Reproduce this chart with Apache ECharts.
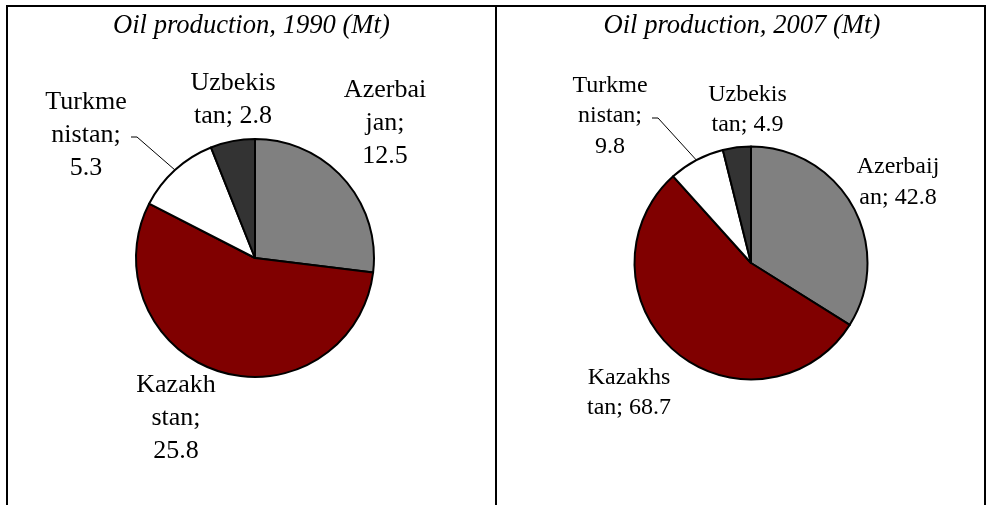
<!DOCTYPE html>
<html>
<head>
<meta charset="utf-8">
<title>Oil production</title>
<script src="https://cdn.jsdelivr.net/npm/echarts@6/dist/echarts.min.js"></script>
<style>
    html, body { margin: 0; padding: 0; background: #fff; }
    #main { width: 986px; height: 505px; }
</style>
</head>
<body>
<div id="main"></div>
<script>
var countries = ['Azerbaijan', 'Kazakhstan', 'Turkmenistan', 'Uzbekistan'],
    production1990 = [12.5, 25.8, 5.3, 2.8],
    production2007 = [42.8, 68.7, 9.8, 4.9],
    titles = ['Oil production, 1990 (Mt)', 'Oil production, 2007 (Mt)'],
    // the names are broken the way the original labels wrap them
    wrapped1990 = ['Azerbai\njan', 'Kazakh\nstan', 'Turkme\nnistan', 'Uzbekis\ntan'],
    wrapped2007 = ['Azerbaij\nan', 'Kazakhs\ntan', 'Turkme\nnistan', 'Uzbekis\ntan'],
    valueSep1990 = ['\n', '\n', '\n', ' '],
    valueSep2007 = [' ', ' ', '\n', ' '],
    sliceColors = ['#808080', '#800000', '#ffffff', '#333333'];

// where each label sits (centre of the text block), per pie
var labelPos = [
    [[385, 123.5], [176, 418], [86, 135], [233, 100]],
    [[898, 182], [629, 392.5], [610, 116], [747.5, 109.5]]
];
// leader line next to the Turkmenistan label: elbow, then end at the text
var leader = [
    [[137, 137], [131, 137]],
    [[658, 118], [652, 118]]
];
var serif = 'Liberation Serif',
    fontSizes = [26, 24],
    lineHeights = [33, 30.5];

function pieData(values, wrapped, seps) {
    return values.map(function (v, i) {
        return {
            name: countries[i],
            value: v,
            label: { formatter: wrapped[i] + ';' + seps[i] + v.toFixed(1) },
            itemStyle: { color: sliceColors[i] },
            labelLine: { show: i === 2 }
        };
    });
}

function pieSeries(idx, center, radius, data) {
    return {
        type: 'pie',
        center: center,
        radius: radius,
        startAngle: 90,
        clockwise: true,
        avoidLabelOverlap: false,
        silent: true,
        itemStyle: { borderColor: '#000', borderWidth: 2 },
        label: {
            show: true,
            position: 'outside',
            color: '#000',
            fontFamily: serif,
            fontSize: fontSizes[idx],
            lineHeight: lineHeights[idx],
            align: 'center'
        },
        labelLine: {
            show: false,
            lineStyle: { color: '#000', width: 1 }
        },
        labelLayout: function (params) {
            var p = labelPos[idx][params.dataIndex],
                out = { x: p[0], y: p[1], align: 'center', verticalAlign: 'middle' };
            if (params.dataIndex === 2 && params.labelLinePoints) {
                out.labelLinePoints = [
                    params.labelLinePoints[0],
                    leader[idx][0],
                    leader[idx][1]
                ];
            }
            return out;
        },
        emphasis: { disabled: true },
        data: data
    };
}

var titleStyle = {
    fontFamily: serif,
    fontStyle: 'italic',
    fontWeight: 'normal',
    fontSize: 26.6,
    lineHeight: 27,
    color: '#000'
};

var myChart = echarts.init(document.getElementById('main'), null, { renderer: 'canvas' }),
    option = {
        animation: false,
        backgroundColor: '#fff',
        textStyle: { fontFamily: serif, color: '#000' },
        title: [
            { text: titles[0], left: 113, top: 12, padding: 0, textStyle: titleStyle },
            { text: titles[1], left: 603.5, top: 12, padding: 0, textStyle: titleStyle }
        ],
        graphic: [
            { type: 'line', shape: { x1: 6, y1: 6, x2: 986, y2: 6 }, style: { stroke: '#000', lineWidth: 2 } },
            { type: 'line', shape: { x1: 7, y1: 6, x2: 7, y2: 505 }, style: { stroke: '#000', lineWidth: 2 } },
            { type: 'line', shape: { x1: 496, y1: 6, x2: 496, y2: 505 }, style: { stroke: '#000', lineWidth: 2 } },
            { type: 'line', shape: { x1: 985, y1: 6, x2: 985, y2: 505 }, style: { stroke: '#000', lineWidth: 2 } }
        ],
        series: [
            pieSeries(0, [255, 258], 119, pieData(production1990, wrapped1990, valueSep1990)),
            pieSeries(1, [751, 263], 116.5, pieData(production2007, wrapped2007, valueSep2007))
        ]
    };

myChart.setOption(option);
</script>
</body>
</html>
